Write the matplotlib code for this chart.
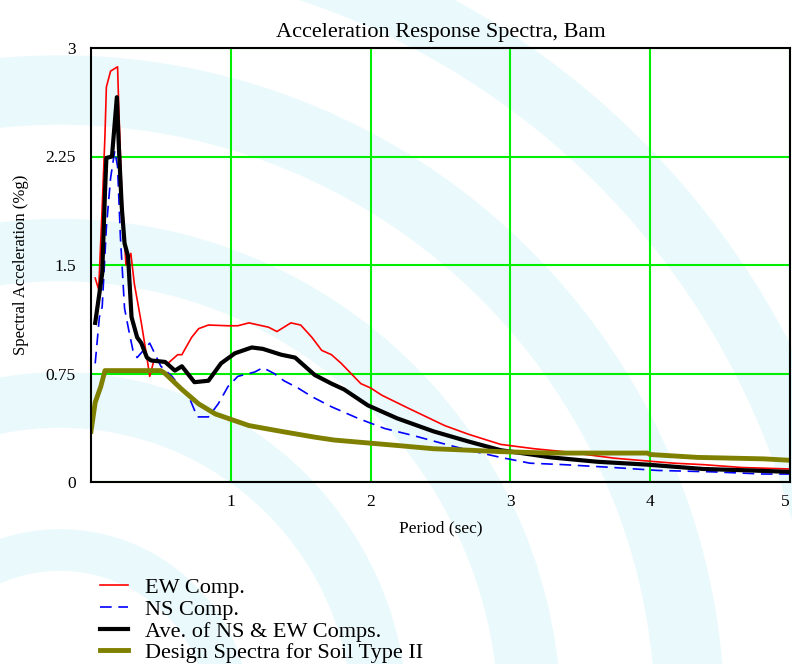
import matplotlib
matplotlib.use('Agg')
import matplotlib.pyplot as plt
from matplotlib.patches import Circle

plt.rcParams['font.family'] = ['Liberation Serif', 'DejaVu Serif']

# Periods (sec) and spectral accelerations
ew_period = [0.03, 0.055, 0.08, 0.10, 0.11, 0.14, 0.19, 0.20, 0.22, 0.25, 0.285,
             0.31, 0.36, 0.40, 0.42, 0.45, 0.50, 0.55, 0.62, 0.65, 0.72, 0.77,
             0.84, 0.98, 1.05, 1.13, 1.27, 1.33, 1.43, 1.50, 1.58, 1.65, 1.72,
             1.79, 1.93, 2.00, 2.08, 2.27, 2.53, 2.70, 2.93, 3.17, 3.38, 3.74,
             3.98, 4.17, 4.38, 4.66, 5.00]
ew_accel = [1.41, 1.33, 1.90, 2.40, 2.73, 2.84, 2.87, 2.55, 2.00, 1.50, 1.58,
            1.37, 1.10, 0.86, 0.73, 0.84, 0.83, 0.82, 0.88, 0.88, 1.00, 1.06,
            1.085, 1.08, 1.08, 1.10, 1.07, 1.04, 1.10, 1.085, 1.00, 0.91, 0.88,
            0.82, 0.68, 0.65, 0.60, 0.51, 0.39, 0.33, 0.26, 0.23, 0.21, 0.165,
            0.145, 0.13, 0.12, 0.10, 0.09]

ns_period = [0.03, 0.06, 0.08, 0.11, 0.14, 0.17, 0.19, 0.21, 0.24, 0.27, 0.30,
             0.33, 0.42, 0.50, 0.58, 0.62, 0.70, 0.76, 0.84, 0.91, 0.98, 1.05,
             1.17, 1.23, 1.31, 1.38, 1.48, 1.58, 1.72, 1.91, 2.10, 2.31, 2.50,
             2.70, 2.93, 3.14, 3.38, 3.74, 4.05, 4.45, 4.81, 5.00]
ns_accel = [0.82, 1.14, 1.21, 1.76, 2.10, 2.29, 2.18, 1.70, 1.20, 1.05, 0.91,
            0.86, 0.96, 0.80, 0.73, 0.68, 0.59, 0.45, 0.45, 0.54, 0.66, 0.73,
            0.76, 0.79, 0.75, 0.70, 0.65, 0.59, 0.52, 0.44, 0.37, 0.32, 0.27,
            0.22, 0.17, 0.13, 0.12, 0.10, 0.08, 0.07, 0.055, 0.055]

ave_period = [0.03, 0.08, 0.10, 0.11, 0.15, 0.185, 0.20, 0.22, 0.24, 0.265, 0.29,
              0.33, 0.36, 0.40, 0.43, 0.53, 0.60, 0.65, 0.74, 0.84, 0.93, 1.03,
              1.15, 1.23, 1.36, 1.46, 1.60, 1.72, 1.81, 1.98, 2.19, 2.45, 2.70,
              2.93, 3.15, 3.29, 3.62, 3.98, 4.38, 4.71, 5.00]
ave_accel = [1.10, 1.44, 2.00, 2.24, 2.25, 2.66, 2.30, 1.90, 1.65, 1.56, 1.14,
             1.00, 0.96, 0.86, 0.84, 0.83, 0.77, 0.80, 0.69, 0.70, 0.82, 0.89,
             0.93, 0.92, 0.88, 0.86, 0.74, 0.68, 0.64, 0.53, 0.44, 0.35, 0.28,
             0.22, 0.19, 0.17, 0.14, 0.12, 0.09, 0.08, 0.07]

design_period = [0.0, 0.03, 0.07, 0.10, 0.50, 0.53, 0.65, 0.77, 0.89, 0.98, 1.13,
                 1.36, 1.60, 1.74, 1.98, 2.22, 2.45, 2.70, 2.93, 3.29, 3.98, 4.00,
                 4.34, 4.81, 5.00]
design_accel = [0.35, 0.55, 0.66, 0.77, 0.77, 0.75, 0.64, 0.54, 0.47, 0.44, 0.39,
                0.35, 0.31, 0.29, 0.27, 0.25, 0.23, 0.22, 0.21, 0.20, 0.20, 0.19,
                0.17, 0.16, 0.15]

y_ticks = [0, 0.75, 1.5, 2.25, 3]
y_tick_labels = ['0', '0.75', '1.5', '2.25', '3']
x_ticks = [1, 2, 3, 4, 5]

fig = plt.figure(figsize=(7.92, 6.64), dpi=100)

# Faint watermark behind the chart
bg = fig.add_axes([0, 0, 1, 1], zorder=-1)
bg.set_xlim(0, 792)
bg.set_ylim(664, 0)
bg.axis('off')
for radius, width in [(170, 30), (320, 40), (470, 45), (630, 50), (790, 45)]:
    bg.add_patch(Circle((60, 720), radius, fill=False, lw=width,
                        color='#dcf6fa', alpha=0.6))

ax = fig.add_axes([91 / 792, 1 - 482 / 664, 699 / 792, 434 / 664])
ax.patch.set_alpha(0)

ax.plot(ew_period, ew_accel, color='red', lw=1.2, label='EW Comp.')
ax.plot(ns_period, ns_accel, color='blue', lw=1.2, dashes=(7, 4), label='NS Comp.')
ax.plot(ave_period, ave_accel, color='black', lw=3.0,
        label='Ave. of NS & EW Comps.')
ax.plot(design_period, design_accel, color='#808000', lw=3.5,
        label='Design Spectra for Soil Type II')

ax.set_xlim(0, 5)
ax.set_ylim(0, 3)
ax.set_xticks(x_ticks)
ax.set_yticks(y_ticks)
ax.set_yticklabels(y_tick_labels)
ax.tick_params(length=0, labelsize=12.5)
ax.tick_params(axis='y', pad=11)
ax.tick_params(axis='x', pad=9)
ax.get_xticklabels()[-1].set_horizontalalignment('right')
ax.grid(True, color='#00ee00', lw=1.5)
ax.set_axisbelow(True)
for side in ax.spines.values():
    side.set_color('black')
    side.set_linewidth(1.5)

ax.set_title('Acceleration Response Spectra, Bam', fontsize=16, pad=8)
ax.set_xlabel('Period (sec)', fontsize=12.5, labelpad=7)
ax.set_ylabel('Spectral Acceleration (%g)', fontsize=12, labelpad=12)

ax.legend(loc='upper left', bbox_to_anchor=(0.0, -0.2), frameon=False,
          fontsize=16, handlelength=1.25, handletextpad=0.8, labelspacing=0.05,
          borderaxespad=0)

fig.savefig('out.png', dpi=100)
